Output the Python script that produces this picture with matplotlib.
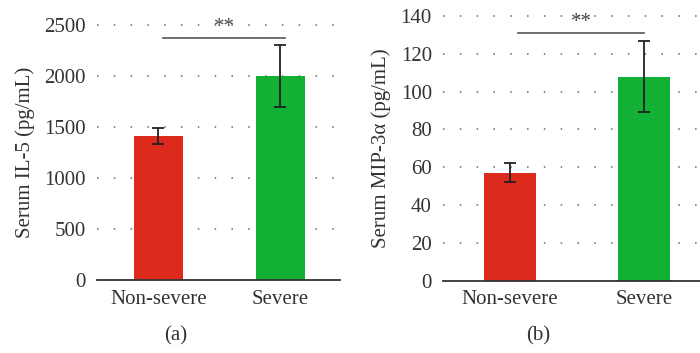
import matplotlib.pyplot as plt

# group names and measured means with their error bars
groups = ['Non-severe', 'Severe']
il5_mean = [1415, 2000]
il5_err = [80, 305]
mip_mean = [57, 108]
mip_err = [5, 19]
il5_ticks = [0, 500, 1000, 1500, 2000, 2500]
mip_ticks = [0, 20, 40, 60, 80, 100, 120, 140]

bar_colors = ['#dc2a1c', '#12b035']
text_col = '#333333'

plt.rcParams['font.family'] = ['Liberation Serif', 'DejaVu Serif']

fig = plt.figure(figsize=(7, 3.53), dpi=100)


def panel(rect, means, errs, ticks, ylab, xlim, width, sig_y, sig_x, tag, tag_x):
    ax = fig.add_axes(rect)
    x = list(range(len(groups)))
    ax.bar(x, means, width=width, color=bar_colors, zorder=2)
    ax.errorbar(x, means, yerr=errs, fmt='none', ecolor='#222222',
                elinewidth=1.3, capsize=4, capthick=1.3, zorder=3)
    ax.set_xlim(*xlim)
    ax.set_ylim(0, ticks[-1])
    ax.set_yticks(ticks)
    ax.set_xticks(x)
    ax.set_xticklabels(groups)
    # dotted horizontal grid, solid baseline
    for t in ticks[1:]:
        ax.axhline(t, color='#666666', lw=1.1, ls=(0, (1, 10)), zorder=1, clip_on=False)
    for s in ['top', 'right', 'left']:
        ax.spines[s].set_visible(False)
    ax.spines['bottom'].set_color('#333333')
    ax.spines['bottom'].set_linewidth(1.3)
    ax.tick_params(axis='both', length=0, colors=text_col, labelsize=15)
    ax.tick_params(axis='y', pad=8)
    ax.tick_params(axis='x', pad=7)
    ax.set_ylabel(ylab, color=text_col, fontsize=15, labelpad=7)
    # significance bar
    ax.plot(sig_x, [sig_y, sig_y], color='#555555', lw=1.2, clip_on=False)
    ax.annotate('**', (sum(sig_x) / 2, sig_y), xytext=(0, 1),
                textcoords='offset points', ha='center', va='bottom',
                color='#444444', fontsize=15, annotation_clip=False)
    fig.text(tag_x, 1 - 336 / 353, tag, ha='center', va='center',
             color=text_col, fontsize=15)
    return ax


panel([97 / 700, 1 - 280 / 353, 243 / 700, 255 / 353], il5_mean, il5_err,
      il5_ticks, 'Serum IL-5 (pg/mL)', (-0.504, 1.488), 0.40,
      2370, [0.04, 1.04], '(a)', 176 / 700)
panel([443 / 700, 1 - 280.7 / 353, 257 / 700, 264.7 / 353], mip_mean, mip_err,
      mip_ticks, 'Serum MIP-3α (pg/mL)', (-0.50, 1.416), 0.39,
      131, [0.06, 1.0], '(b)', 538 / 700)

fig.savefig('out.png', dpi=100)
